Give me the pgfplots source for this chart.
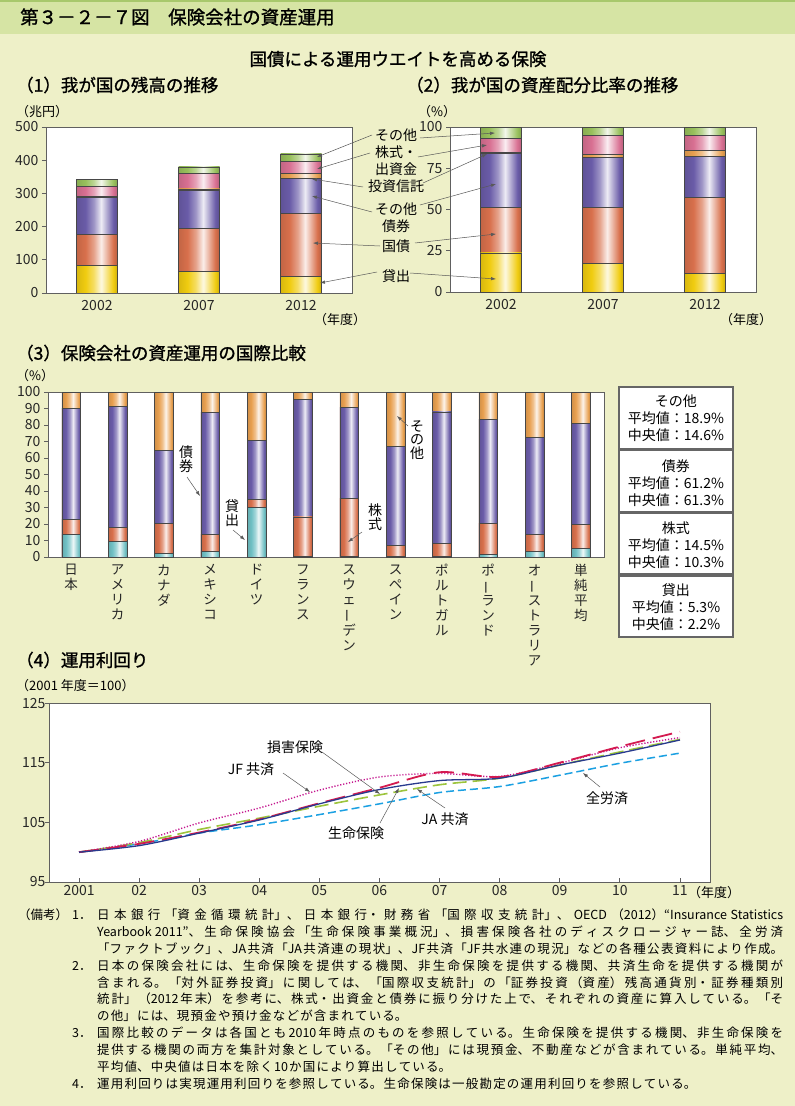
\documentclass[border=0pt]{standalone}
\usepackage{pgfplots}
\pgfplotsset{compat=1.18}
\usepackage{fontspec}
\setmainfont{Noto Sans CJK JP}
\newfontfamily\jpb[FakeBold=1.2]{Noto Sans CJK JP}
\usetikzlibrary{arrows.meta}
\XeTeXlinebreaklocale "ja"
\XeTeXlinebreakskip=0pt plus 1pt
\definecolor{bg}{HTML}{EEF0C8}
\definecolor{banner}{HTML}{D6E4A4}
\definecolor{bannerline}{HTML}{A8C86C}
\definecolor{cLoan}{HTML}{F0CC10}
\definecolor{cJGB}{HTML}{D8704C}
\definecolor{cBond}{HTML}{6A5CA8}
\definecolor{cTrust}{HTML}{E8A050}
\definecolor{cStock}{HTML}{D87092}
\definecolor{cOther}{HTML}{98C05C}
\definecolor{cLoanB}{HTML}{70C0C4}
\definecolor{axc}{HTML}{606060}
\definecolor{lLife}{HTML}{283A8E}
\definecolor{lNon}{HTML}{D41A50}
\definecolor{lJF}{HTML}{C4148E}
\definecolor{lJA}{HTML}{9CC43C}
\definecolor{lZen}{HTML}{1BA0E2}
\newcommand\mkshade[1]{%
  \colorlet{#1D}{#1!90!black}\colorlet{#1M}{#1!65!white}\colorlet{#1L}{#1!12!white}\colorlet{#1R}{#1!85!black}%
  \pgfdeclarehorizontalshading{sh#1}{100bp}{color(0bp)=(#1D); color(25bp)=(#1D); color(36bp)=(#1); color(46bp)=(#1M); color(55bp)=(#1L); color(64bp)=(#1M); color(70bp)=(#1); color(75bp)=(#1R); color(100bp)=(#1R)}}
\mkshade{cLoan}\mkshade{cJGB}\mkshade{cBond}\mkshade{cTrust}\mkshade{cStock}\mkshade{cOther}\mkshade{cLoanB}
\newcommand\fs[1]{\fontsize{#1bp}{#1bp}\selectfont}
\newcommand\vb{\rotatebox[origin=c]{90}{ー}}
\pgfplotsset{
  shbar/.style={draw=black!72, line width=0.6bp, shading=sh#1, shade},
  base/.style={scale only axis, axis background/.style={fill=white},
    axis line style={axc, line width=1bp},
    tick style={axc, line width=0.8bp}, major tick length=4bp,
    tick label style={font=\fs{14}, text=black!85},
    /pgf/number format/assume math mode=true},
}
% one bar (cumulative top), drawn as its own plot so that each bar has its own shading
\newcommand\bbar[3]{\addplot[ybar, bar shift=0pt, shbar=#3] coordinates {(#1,#2)};}
\newcommand\nj[2]{\node[anchor=west,inner sep=0] at (97,#1) {\parbox{686bp}{\fs{12.5}\XeTeXlinebreakskip=1.2bp plus 5bp minus 0.6bp\relax\tolerance=10000\parfillskip=0pt\noindent #2}};}
\newcommand\nn[2]{\node[anchor=west,inner sep=0] at (97,#1) {\parbox{686bp}{\fs{12.5}\XeTeXlinebreakskip=1.2bp plus 5bp minus 0.6bp\relax\noindent #2}};}
\begin{document}
\begin{tikzpicture}
\begin{scope}[x=1bp,y=-1bp]
\fill[bg] (0,0) rectangle (795,1106);
\fill[banner] (0,0) rectangle (795,34);
\fill[bannerline] (0,0) rectangle (795,2.5);
\node[anchor=west,inner sep=0] at (20,17) {\jpb\fs{18.5}第３－２－７図　保険会社の資産運用};
\node[inner sep=0] at (398,59) {\jpb\fs{17.5}国債による運用ウエイトを高める保険};
\node[anchor=west,inner sep=0] at (16,85) {\jpb\fs{17.5}（1）我が国の残高の推移};
\node[anchor=west,inner sep=0] at (406,85) {\jpb\fs{17.5}（2）我が国の資産配分比率の推移};
\node[anchor=west,inner sep=0] at (16,112) {\fs{13}（兆円）};
\node[anchor=west,inner sep=0] at (418,112) {\fs{13}（\%）};
\node[anchor=west,inner sep=0] at (314,320) {\fs{13}（年度）};
\node[anchor=west,inner sep=0] at (720,320) {\fs{13}（年度）};
\node[anchor=west,inner sep=0] at (16,353) {\jpb\fs{17.5}（3）保険会社の資産運用の国際比較};
\node[anchor=west,inner sep=0] at (16,376) {\fs{13}（\%）};
\node[anchor=west,inner sep=0] at (16,660) {\jpb\fs{17.5}（4）運用利回り};
\node[anchor=west,inner sep=0] at (16,686) {\fs{13}（2001 年度＝100）};
\node[anchor=west,inner sep=0] at (688,893) {\fs{13}（年度）};
\end{scope}

% ---------- Panel 1 (cumulative tops: loans, +JGB, +other bonds, +trusts, +stocks, +other) ----------
\begin{axis}[base, at={(46bp,-127bp)}, anchor=north west, width=306bp, height=166bp,
  bar width=41bp, xmin=-0.5, xmax=2.5, ymin=0, ymax=500,
  ytick={0,100,...,500}, xtick={0,1,2}, xticklabels={2002,2007,2012},
  tick align=outside, xtick style={draw=none}, ytick pos=left, xtick pos=bottom]
\bbar{0}{342.5}{cOther}\bbar{0}{320.5}{cStock}\bbar{0}{291}{cTrust}\bbar{0}{288}{cBond}\bbar{0}{175.5}{cJGB}\bbar{0}{82}{cLoan}
\bbar{1}{380}{cOther}\bbar{1}{361}{cStock}\bbar{1}{313.5}{cTrust}\bbar{1}{308.5}{cBond}\bbar{1}{194.5}{cJGB}\bbar{1}{65.5}{cLoan}
\bbar{2}{419}{cOther}\bbar{2}{396}{cStock}\bbar{2}{361}{cTrust}\bbar{2}{345}{cBond}\bbar{2}{239}{cJGB}\bbar{2}{49.4}{cLoan}
\end{axis}

% ---------- Panel 2 ----------
\begin{axis}[base, at={(450bp,-127bp)}, anchor=north west, width=306bp, height=165bp,
  bar width=41bp, xmin=-0.5, xmax=2.5, ymin=0, ymax=100,
  ytick={0,25,...,100}, xtick={0,1,2}, xticklabels={2002,2007,2012},
  tick align=outside, xtick style={draw=none}, ytick pos=left, xtick pos=bottom]
\bbar{0}{100}{cOther}\bbar{0}{93.3}{cStock}\bbar{0}{84.8}{cTrust}\bbar{0}{84.0}{cBond}\bbar{0}{51.4}{cJGB}\bbar{0}{23.7}{cLoan}
\bbar{1}{100}{cOther}\bbar{1}{94.7}{cStock}\bbar{1}{83.2}{cTrust}\bbar{1}{81.4}{cBond}\bbar{1}{51.4}{cJGB}\bbar{1}{17.4}{cLoan}
\bbar{2}{100}{cOther}\bbar{2}{94.7}{cStock}\bbar{2}{86.0}{cTrust}\bbar{2}{82.4}{cBond}\bbar{2}{57.1}{cJGB}\bbar{2}{11.5}{cLoan}
\end{axis}

% ---------- Panel 3 (cumulative tops: loans, +stocks, +bonds, +other=100) ----------
\begin{axis}[base, at={(48bp,-392bp)}, anchor=north west, width=556bp, height=165bp,
  bar width=18.7bp, xmin=-0.5, xmax=11.5, ymin=0, ymax=100,
  ytick={0,10,...,100}, xtick={0,...,11},
  xticklabels={{日\\本},{ア\\メ\\リ\\カ},{カ\\ナ\\ダ},{メ\\キ\\シ\\コ},{ド\\イ\\ツ},{フ\\ラ\\ン\\ス},{ス\\ウ\\ェ\\\vb\\デ\\ン},{ス\\ペ\\イ\\ン},{ポ\\ル\\ト\\ガ\\ル},{ポ\\\vb\\ラ\\ン\\ド},{オ\\\vb\\ス\\ト\\ラ\\リ\\ア},{単\\純\\平\\均}},
  xticklabel style={align=center, anchor=north, font={\fontsize{13.5bp}{15bp}\selectfont}},
  tick align=outside, xtick style={draw=none}, ytick pos=left, xtick pos=bottom]
\bbar{0}{100}{cTrust}\bbar{0}{89.9}{cBond}\bbar{0}{22.7}{cJGB}\bbar{0}{13.8}{cLoanB}
\bbar{1}{100}{cTrust}\bbar{1}{91.1}{cBond}\bbar{1}{17.8}{cJGB}\bbar{1}{9.5}{cLoanB}
\bbar{2}{100}{cTrust}\bbar{2}{64.4}{cBond}\bbar{2}{20.4}{cJGB}\bbar{2}{2.2}{cLoanB}
\bbar{3}{100}{cTrust}\bbar{3}{87.7}{cBond}\bbar{3}{13.6}{cJGB}\bbar{3}{3.2}{cLoanB}
\bbar{4}{100}{cTrust}\bbar{4}{70.6}{cBond}\bbar{4}{35.0}{cJGB}\bbar{4}{30.2}{cLoanB}
\bbar{5}{100}{cTrust}\bbar{5}{95.7}{cBond}\bbar{5}{24.3}{cJGB}\bbar{5}{0.4}{cLoanB}
\bbar{6}{100}{cTrust}\bbar{6}{90.7}{cBond}\bbar{6}{35.4}{cJGB}\bbar{6}{0.4}{cLoanB}
\bbar{7}{100}{cTrust}\bbar{7}{67.2}{cBond}\bbar{7}{7.1}{cJGB}\bbar{7}{0.3}{cLoanB}
\bbar{8}{100}{cTrust}\bbar{8}{87.9}{cBond}\bbar{8}{8.3}{cJGB}\bbar{8}{0.2}{cLoanB}
\bbar{9}{100}{cTrust}\bbar{9}{83.4}{cBond}\bbar{9}{20.4}{cJGB}\bbar{9}{1.8}{cLoanB}
\bbar{10}{100}{cTrust}\bbar{10}{72.7}{cBond}\bbar{10}{13.6}{cJGB}\bbar{10}{3.4}{cLoanB}
\bbar{11}{100}{cTrust}\bbar{11}{81.2}{cBond}\bbar{11}{19.8}{cJGB}\bbar{11}{5.1}{cLoanB}
\end{axis}

% ---------- Panel 4 ----------
\begin{axis}[base, at={(49bp,-703bp)}, anchor=north west, width=661bp, height=179bp,
  xmin=2000.5, xmax=2011.5, ymin=95, ymax=125, ytick={95,105,115,125},
  xtick={2001,...,2011}, xticklabels={2001,02,03,04,05,06,07,08,09,10,11},
  tick align=inside, ytick style={axc, line width=0.8bp, xshift=-4bp}, ytick pos=left, xtick pos=bottom]
\addplot[lZen, line width=1.5bp, dash pattern=on 8bp off 4bp, smooth] coordinates {(2001,100) (2002,101.4) (2003,103.2) (2004,104.6) (2005,106.3) (2006,108.1) (2007,110.0) (2008,111.0) (2009,112.9) (2010,114.9) (2011,116.6)};
\addplot[lJA, line width=1.6bp, dash pattern=on 14bp off 6bp, smooth] coordinates {(2001,100) (2002,101.6) (2003,103.8) (2004,105.7) (2005,107.7) (2006,109.6) (2007,111.3) (2008,112.4) (2009,114.6) (2010,116.8) (2011,118.9)};
\addplot[lJF, line width=1.4bp, dash pattern=on 1.2bp off 1.8bp, smooth] coordinates {(2001,100) (2002,101.8) (2003,104.9) (2004,107.4) (2005,110.4) (2006,112.6) (2007,113.2) (2008,112.7) (2009,114.9) (2010,117.5) (2011,119.2)};
\addplot[lNon, line width=1.8bp, dash pattern=on 20bp off 8bp, smooth] coordinates {(2001,100) (2002,101.4) (2003,103.3) (2004,105.5) (2005,108.2) (2006,110.8) (2007,113.4) (2008,112.6) (2009,115.0) (2010,117.7) (2011,120.2)};
\addplot[lLife, line width=1.3bp, smooth] coordinates {(2001,100) (2002,101.1) (2003,103.2) (2004,105.4) (2005,108.1) (2006,110.5) (2007,112.0) (2008,112.4) (2009,114.6) (2010,116.6) (2011,118.8)};
\end{axis}

\begin{scope}[x=1bp,y=-1bp]
\tikzset{ann/.style={draw=black!65, line width=0.5bp}, arr/.style={ann, -{Latex[length=5bp,width=3.5bp]}}}
\foreach \t/\y in {その他/135,株式・/152,出資金/169,投資信託/186,その他/209,債券/226,国債/246,貸出/276}
  \node[inner sep=0] at (396,\y) {\fs{14}\t};
\draw[arr] (372,135) -- (317,157);
\draw[arr] (370,153) -- (317,169);
\draw[arr] (363,187) -- (312,179);
\draw[arr] (372,212) -- (312,196);
\draw[arr] (380,246) -- (313,243);
\draw[arr] (377,272) -- (320,283);
\draw[arr] (420,138) -- (495,133);
\draw[arr] (418,157) -- (487,145);
\draw[arr] (423,183) -- (487,154);
\draw[arr] (420,205) -- (496,184);
\draw[arr] (415,243) -- (496,234);
\draw[arr] (410,273) -- (496,279);
% panel 3 annotations
\node[inner sep=0, align=center, font={\fontsize{14bp}{14bp}\selectfont}] at (186,459) {債\\券};
\draw[arr] (187,477) -- (200,496);
\node[inner sep=0, align=center, font={\fontsize{14bp}{14bp}\selectfont}] at (232,513) {貸\\出};
\draw[arr] (233,530) -- (245,540);
\node[inner sep=0, align=center, font={\fontsize{14bp}{14bp}\selectfont}] at (375,517) {株\\式};
\draw[arr] (362,532) -- (348,542);
\node[inner sep=0, align=center, font={\fontsize{14bp}{13.5bp}\selectfont}] at (417,440) {そ\\の\\他};
\draw[arr] (408,426) -- (397,416);
% summary boxes
\foreach \ya/\yb/\yc/\txt in {387/449/418.5/{その他\\平均値：18.9\%\\中央値：14.6\%},450/512/483/{債券\\平均値：61.2\%\\中央値：61.3\%},513/574/545/{株式\\平均値：14.5\%\\中央値：10.3\%},576/637/607/{貸出\\平均値：5.3\%\\中央値：2.2\%}}{
  \draw[draw=black!60, line width=1.2bp, fill=white] (619,\ya) rectangle (733,\yb);
  \node[inner sep=0, align=center, font={\fontsize{14bp}{17bp}\selectfont}] at (676,\yc) {\txt};
}
% panel 4 annotations
\node[inner sep=0] at (295,747) {\fs{14}損害保険};
\draw[arr] (322,752) -- (380,794);
\node[inner sep=0] at (251,769) {\fs{14}JF 共済};
\draw[arr] (283,773) -- (310,792);
\node[inner sep=0] at (356,833) {\fs{14}生命保険};
\draw[arr] (380,823) -- (399,788);
\node[inner sep=0] at (445,819) {\fs{14}JA 共済};
\draw[arr] (445,808) -- (417,789);
\node[inner sep=0] at (607,798) {\fs{14}全労済};
\draw[arr] (600,787) -- (583,773);
% notes
\node[anchor=west,inner sep=0] at (18,915) {\fs{12.5}（備考）};
\foreach \y/\n in {915/1,966/2,1033/3,1084/4}
  \node[anchor=west,inner sep=0] at (72,\y) {\fs{12.5}\n．};
\nj{915}{日本銀行「資金循環統計」、日本銀行・財務省「国際収支統計」、OECD（2012）“Insurance~Statistics}
\nj{932}{Yearbook~2011”、生命保険協会「生命保険事業概況」、損害保険各社のディスクロージャー誌、全労済}
\nj{949}{「ファクトブック」、JA共済「JA共済連の現状」、JF共済「JF共水連の現況」などの各種公表資料により作成。}
\nj{966}{日本の保険会社には、生命保険を提供する機関、非生命保険を提供する機関、共済生命を提供する機関が}
\nj{982.5}{含まれる。「対外証券投資」に関しては、「国際収支統計」の「証券投資（資産）残高通貨別・証券種類別}
\nj{999}{統計」（2012年末）を参考に、株式・出資金と債券に振り分けた上で、それぞれの資産に算入している。「そ}
\nn{1016}{の他」には、現預金や預け金などが含まれている。}
\nj{1033}{国際比較のデータは各国とも2010年時点のものを参照している。生命保険を提供する機関、非生命保険を}
\nj{1050}{提供する機関の両方を集計対象としている。「その他」には現預金、不動産などが含まれている。単純平均、}
\nn{1067}{平均値、中央値は日本を除く10か国により算出している。}
\nn{1084}{運用利回りは実現運用利回りを参照している。生命保険は一般勘定の運用利回りを参照している。}
\end{scope}
\pgfresetboundingbox
\useasboundingbox (0,0) rectangle (795bp,-1106bp);
\end{tikzpicture}
\end{document}
